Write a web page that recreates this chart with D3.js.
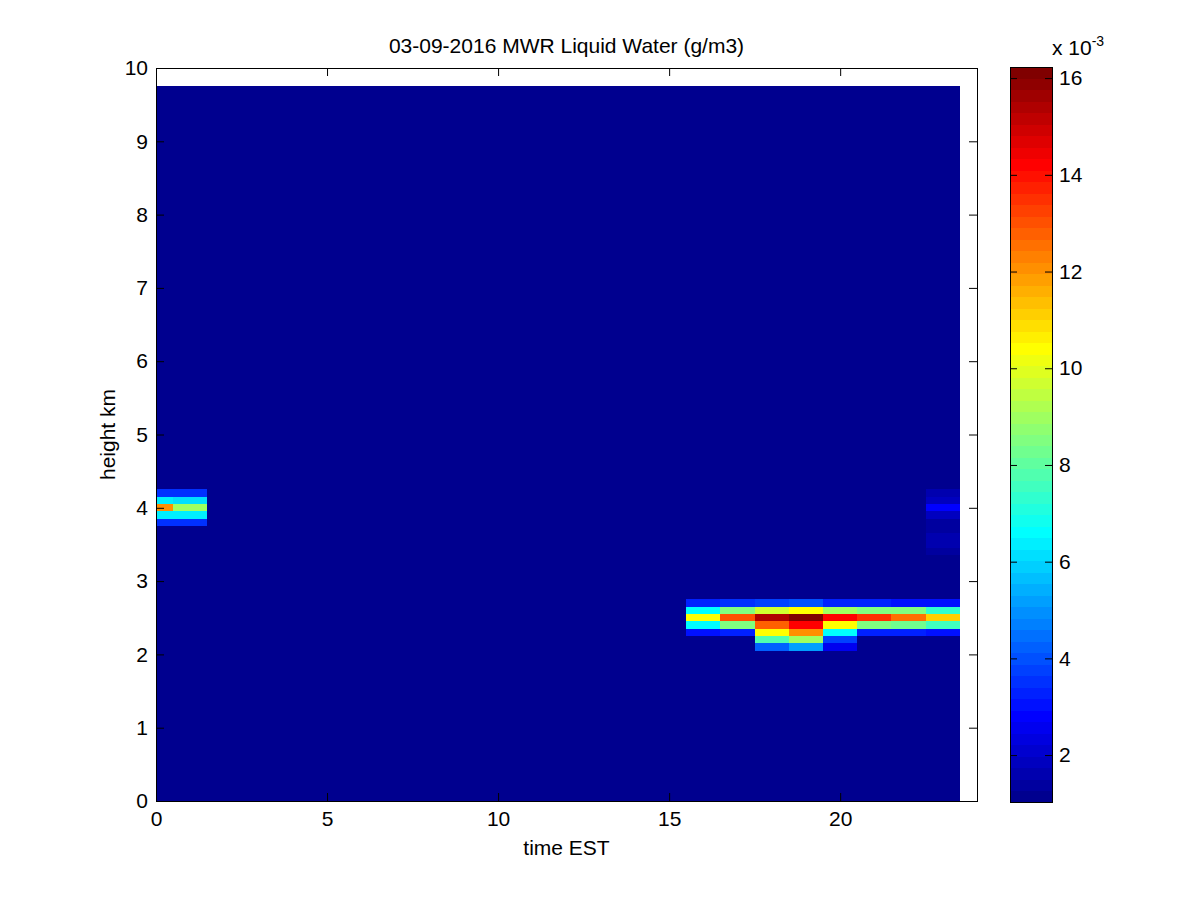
<html>
<head>
<script src="https://d3js.org/d3.v7.min.js"></script>
<style>
body { margin: 0; background: #fff; }
text { font-family: "Liberation Sans", Arial, sans-serif; fill: #000; }
</style>
</head>
<body>
<script>
// liquid water, units of 1e-3 g/m3
var hours = [0,1,2,3,4,5,6,7,8,9,10,11,12,13,14,15,16,17,18,19,20,21,22,23];
var heightsKm = d3.range(0, 98).map(function(i) { return i / 10; });  // retrieval levels 0 .. 9.7 km
var background = 1.03;

// cloud layer near 2.1 - 2.7 km, hours 16 - 23
var lowHours = [16,17,18,19,20,21,22,23];
var lowHeights = [2.1,2.2,2.3,2.4,2.5,2.6,2.7];
var lowValues = [
  [1.03, 1.03, 4.3, 5.1, 2.5, 1.03, 1.03, 1.03],     // 2.1
  [1.03, 1.03, 7.8, 8.9, 3.8, 1.03, 1.03, 1.03],     // 2.2
  [3.1, 3.4, 10.4, 12.0, 6.7, 3.4, 3.3, 3.1],        // 2.3
  [6.6, 8.5, 12.7, 14.2, 10.5, 8.6, 8.3, 7.6],       // 2.4
  [10.4, 13.0, 15.3, 16.23, 14.3, 13.5, 12.5, 11.2], // 2.5
  [6.6, 8.5, 9.6, 10.3, 8.9, 8.5, 8.5, 7.4],         // 2.6
  [3.2, 3.6, 3.8, 4.0, 3.4, 3.3, 3.1, 3.0]           // 2.7
];

// layer near 4 km, hours 0 - 1
var upHours = [0,1];
var upHeights = [3.8,3.9,4.0,4.1,4.2];
var upValues = [
  [3.6, 3.5],
  [6.3, 6.3],
  [12.0, 8.9],
  [6.3, 6.2],
  [3.6, 3.6]
];

// faint signal at hour 23
var lateHeights = [3.4,3.5,3.6,3.7,3.8,3.9,4.0,4.1,4.2];
var lateValues = [1.5, 1.6, 1.6, 1.4, 1.5, 1.8, 2.9, 1.9, 1.6];

var xTicks = [0,5,10,15,20];
var yTicks = [0,1,2,3,4,5,6,7,8,9,10];
var cTicks = [2,4,6,8,10,12,14,16];

// ---- build the grid
function key(h, z) { return h + "_" + z.toFixed(1); }
var lwc = {};
lowHeights.forEach(function(z, r) {
  lowHours.forEach(function(h, c) { lwc[key(h, z)] = lowValues[r][c]; });
});
upHeights.forEach(function(z, r) {
  upHours.forEach(function(h, c) { lwc[key(h, z)] = upValues[r][c]; });
});
lateHeights.forEach(function(z, r) { lwc[key(23, z)] = lateValues[r]; });

var cells = [];
hours.forEach(function(h) {
  heightsKm.forEach(function(z) {
    var v = lwc[key(h, z)];
    cells.push({ h: h, z: z, v: v === undefined ? background : v });
  });
});

// ---- jet(64) like matlab
function jet(m) {
  var n = Math.ceil(m / 4);
  var u = [];
  for (var i = 1; i <= n; i++) u.push(i / n);
  for (var i = 1; i < n; i++) u.push(1);
  for (var i = n; i >= 1; i--) u.push(i / n);
  var off = Math.ceil(n / 2) - (m % 4 == 1 ? 1 : 0);
  var J = d3.range(m).map(function() { return [0, 0, 0]; });
  u.forEach(function(val, k) {
    var g = off + k + 1, r = g + n, b = g - n;
    if (r <= m) J[r - 1][0] = val;
    if (g <= m) J[g - 1][1] = val;
    if (b > 0 && b <= m) J[b - 1][2] = val;
  });
  return J.map(function(c) { return d3.rgb(c[0] * 255, c[1] * 255, c[2] * 255).toString(); });
}
var jetColors = jet(64);
var cmin = d3.min(cells, function(d) { return d.v; });
var cmax = d3.max(cells, function(d) { return d.v; });
var color = d3.scaleQuantize().domain([cmin, cmax]).range(jetColors);

// ---- layout
var W = 1200, H = 900;
var pL = 156, pR = 977, pT = 68, pB = 801;
var fs = 21;

var svg = d3.select("body").append("svg").attr("width", W).attr("height", H);
svg.append("rect").attr("width", W).attr("height", H).attr("fill", "#fff");

var x = d3.scaleLinear().domain([0, 24]).range([pL, pR]);
var y = d3.scaleLinear().domain([0, 10]).range([pB, pT]);

svg.append("g")
  .attr("shape-rendering", "crispEdges")
  .selectAll("rect")
  .data(cells)
  .enter()
  .append("rect")
  .attr("x", function(d) { return x(Math.max(0, d.h - 0.5)); })
  .attr("width", function(d) { return x(d.h + 0.5) - x(Math.max(0, d.h - 0.5)); })
  .attr("y", function(d) { return y(d.z + 0.05); })
  .attr("height", function(d) { return y(Math.max(0, d.z - 0.05)) - y(d.z + 0.05); })
  .attr("fill", function(d) { return color(d.v); });

function styleText(g) {
  g.select(".domain").remove();
  g.selectAll("text").attr("font-size", fs).attr("font-family", "Liberation Sans, Arial, sans-serif");
}

// axes: ticks inward on all sides
var tl = 8;
svg.append("g").attr("transform", "translate(0," + pB + ")")
  .call(d3.axisBottom(x).tickValues(xTicks).tickSize(-tl).tickPadding(10).tickSizeOuter(0))
  .call(styleText);
svg.append("g").attr("transform", "translate(0," + pT + ")")
  .call(d3.axisTop(x).tickValues(xTicks).tickSize(-tl).tickFormat("").tickSizeOuter(0))
  .call(styleText);
svg.append("g").attr("transform", "translate(" + pL + ",0)")
  .call(d3.axisLeft(y).tickValues(yTicks).tickSize(-tl).tickPadding(8).tickSizeOuter(0))
  .call(styleText);
svg.append("g").attr("transform", "translate(" + pR + ",0)")
  .call(d3.axisRight(y).tickValues(yTicks).tickSize(-tl).tickFormat("").tickSizeOuter(0))
  .call(styleText);

svg.append("rect")
  .attr("x", pL).attr("y", pT)
  .attr("width", pR - pL).attr("height", pB - pT)
  .attr("fill", "none").attr("stroke", "#000").attr("stroke-width", 1)
  .attr("shape-rendering", "crispEdges");

// labels
svg.append("text").attr("x", (pL + pR) / 2).attr("y", 53)
  .attr("text-anchor", "middle").attr("font-size", fs)
  .text("03-09-2016 MWR Liquid Water (g/m3)");
svg.append("text").attr("x", (pL + pR) / 2).attr("y", 855)
  .attr("text-anchor", "middle").attr("font-size", fs)
  .text("time EST");
svg.append("text")
  .attr("transform", "translate(115," + (pT + pB) / 2 + ") rotate(-90)")
  .attr("text-anchor", "middle").attr("font-size", fs)
  .text("height km");

// colorbar
var cbL = 1010, cbR = 1052, cbT = 67, cbB = 802;
var cy = d3.scaleLinear().domain([cmin, cmax]).range([cbB, cbT]);
var step = (cmax - cmin) / jetColors.length;
svg.append("g")
  .attr("shape-rendering", "crispEdges")
  .selectAll("rect")
  .data(jetColors)
  .enter()
  .append("rect")
  .attr("x", cbL)
  .attr("width", cbR - cbL)
  .attr("y", function(d, i) { return cy(cmin + (i + 1) * step); })
  .attr("height", function(d, i) { return cy(cmin + i * step) - cy(cmin + (i + 1) * step) + 0.5; })
  .attr("fill", function(d) { return d; });

svg.append("g").attr("transform", "translate(" + cbR + ",0)")
  .call(d3.axisRight(cy).tickValues(cTicks).tickSize(-7).tickPadding(7).tickSizeOuter(0))
  .call(styleText);
svg.append("g").attr("transform", "translate(" + cbL + ",0)")
  .call(d3.axisLeft(cy).tickValues(cTicks).tickSize(-7).tickFormat("").tickSizeOuter(0))
  .call(styleText);
svg.append("rect")
  .attr("x", cbL).attr("y", cbT)
  .attr("width", cbR - cbL).attr("height", cbB - cbT)
  .attr("fill", "none").attr("stroke", "#000")
  .attr("shape-rendering", "crispEdges");

var mult = svg.append("text").attr("x", 1052).attr("y", 55).attr("font-size", fs);
mult.append("tspan").text("x 10");
mult.append("tspan").attr("dy", -9).attr("font-size", 14).text("-3");
</script>
</body>
</html>
